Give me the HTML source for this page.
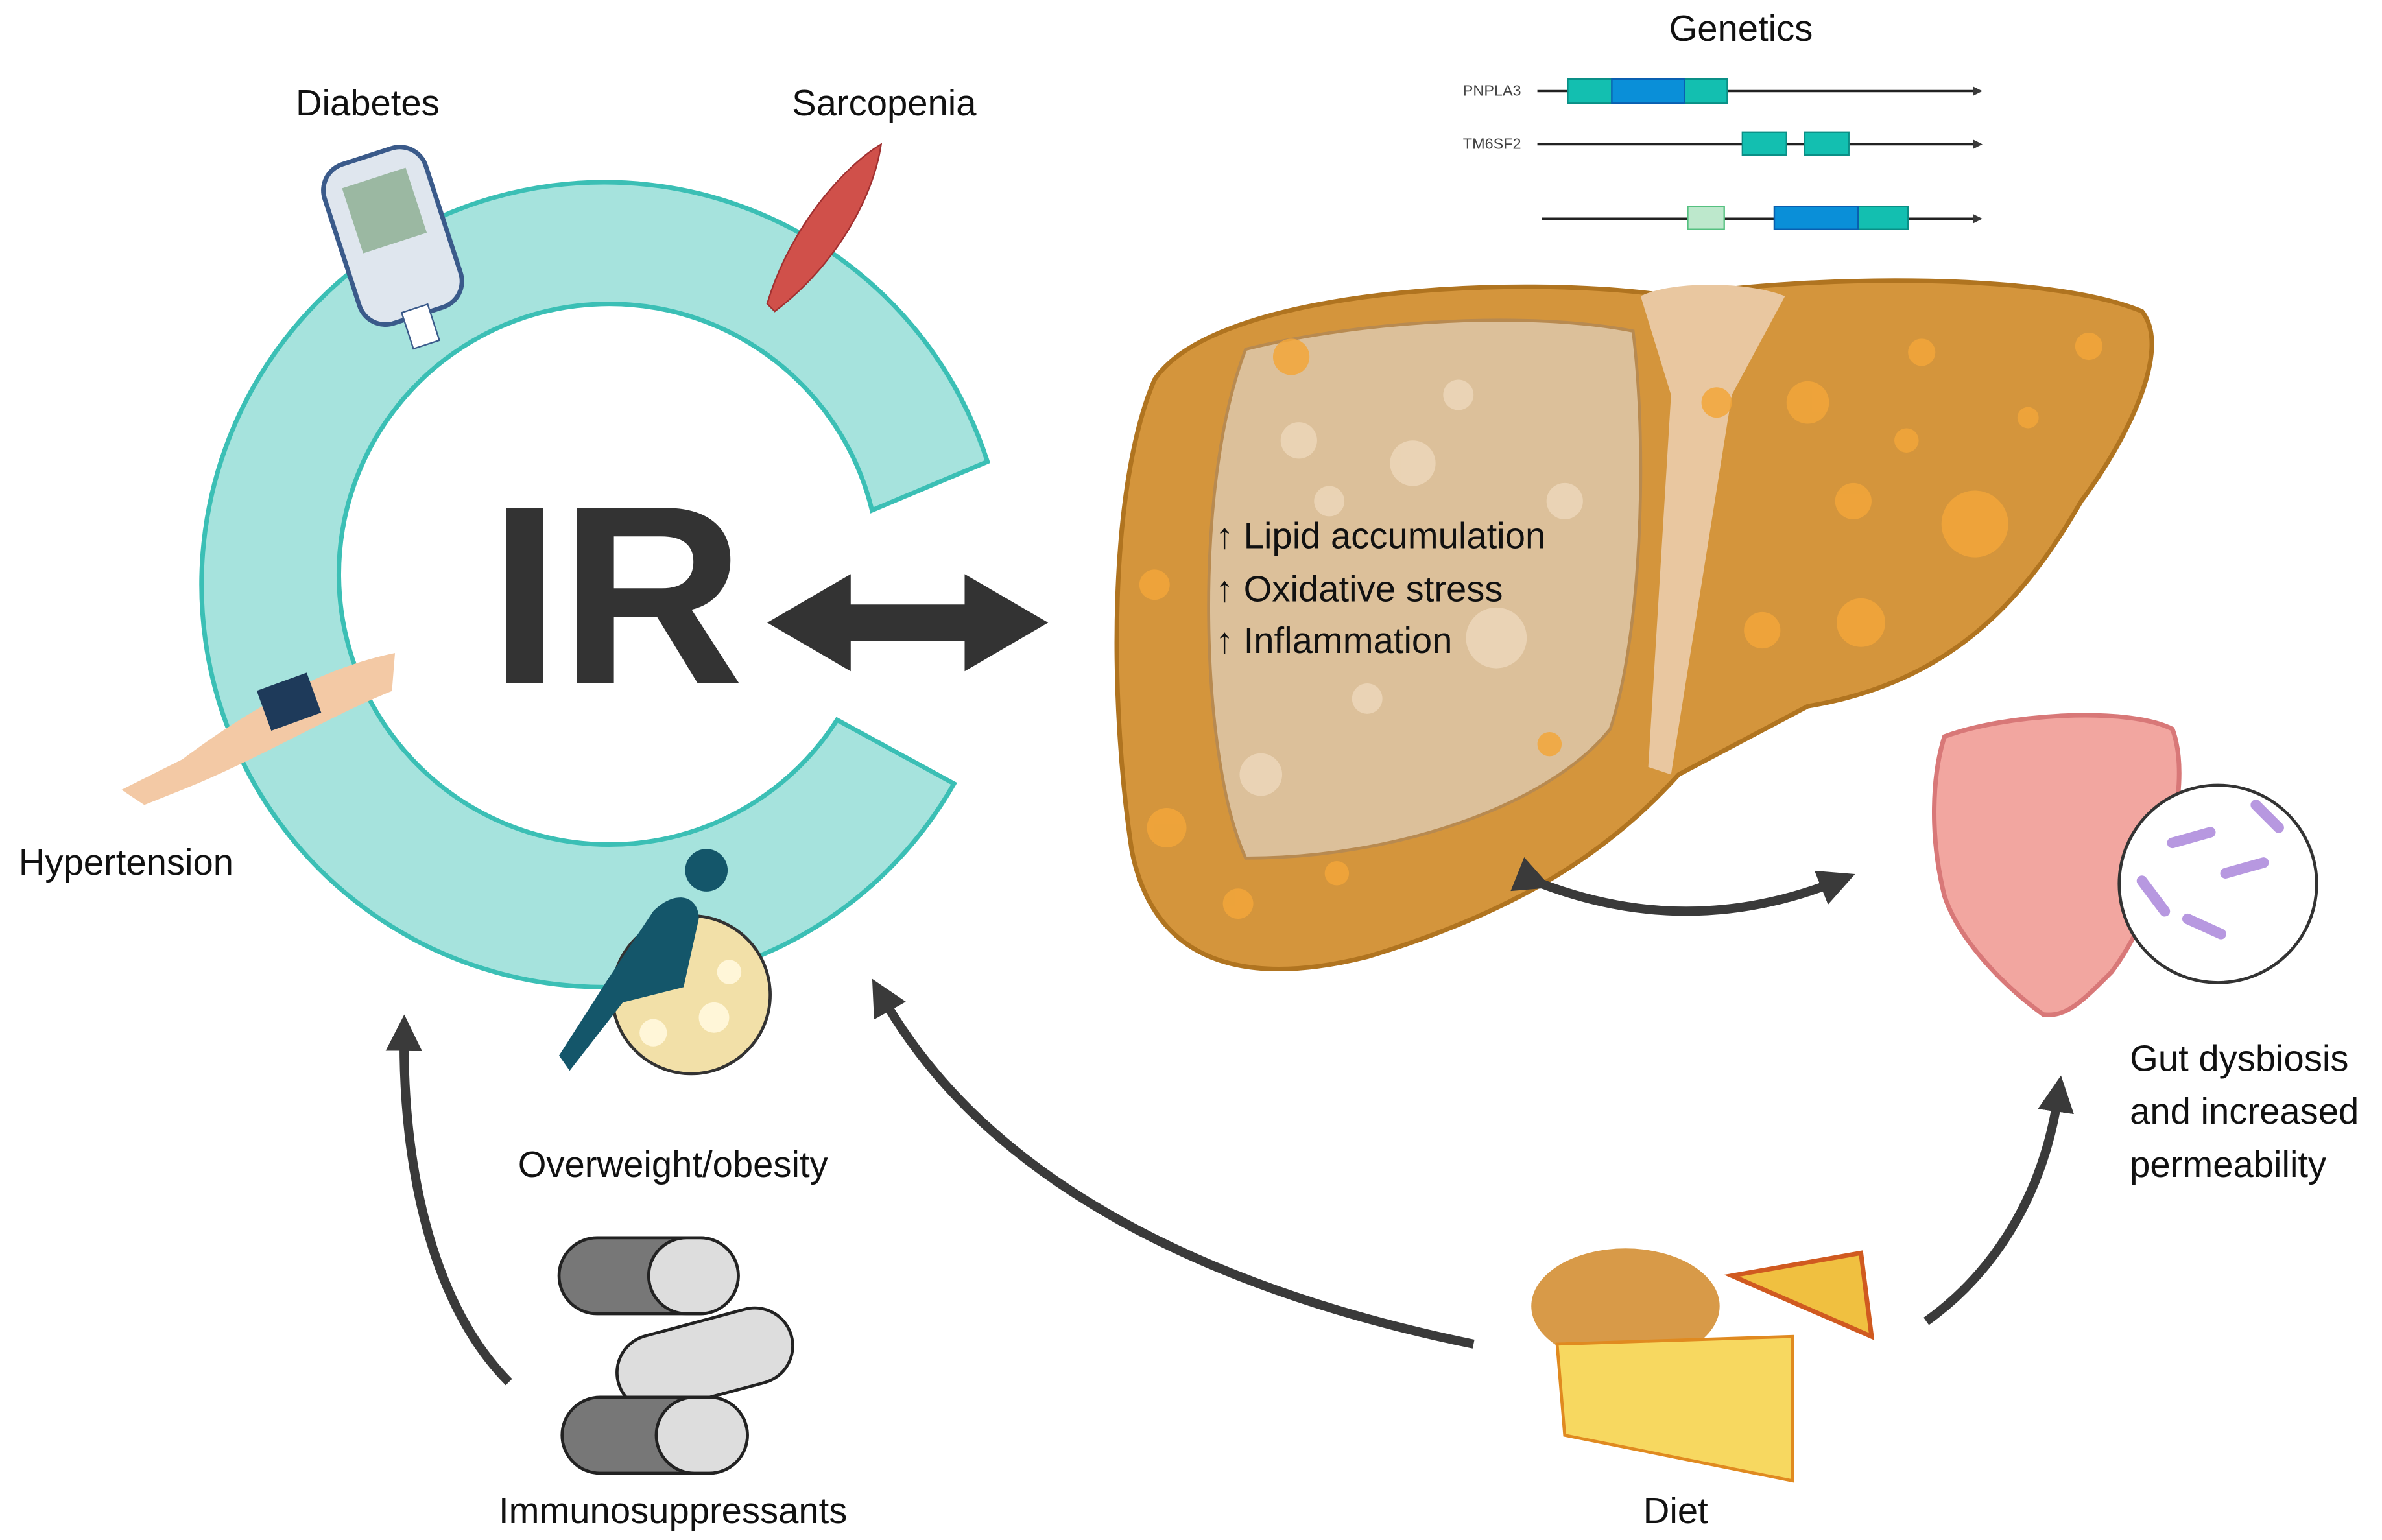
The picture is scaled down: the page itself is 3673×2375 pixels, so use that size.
<!DOCTYPE html>
<html><head><meta charset="utf-8"><style>
html,body{margin:0;padding:0;background:#fff;}
svg{display:block;}
text{font-family:"Liberation Sans",sans-serif;fill:#111;}
</style></head><body>
<svg width="3673" height="2375" viewBox="0 0 1568 1014" preserveAspectRatio="none" xmlns="http://www.w3.org/2000/svg">
<defs>
<marker id="ah" markerWidth="4" markerHeight="4" refX="2" refY="2" orient="auto" markerUnits="strokeWidth"><path d="M0,0 L4,2 L0,4 Z" fill="#3a3a3a"/></marker>
</defs>
<path d="M650,304 A265,265 0 1 0 628,516 L551,474 A178,178 0 1 1 574,336 Z" fill="#a6e3dd" stroke="#3bbfb5" stroke-width="3"/>
<text x="322" y="450" style="font-size:168px;font-weight:bold;fill:#333">IR</text>
<path d="M505,410 L560,378 L560,398 L635,398 L635,378 L690,410 L635,442 L635,422 L560,422 L560,442 Z" fill="#333"/>
<text x="242" y="76" text-anchor="middle" style="font-size:24px">Diabetes</text>
<text x="582" y="76" text-anchor="middle" style="font-size:24px">Sarcopenia</text>
<text x="83" y="576" text-anchor="middle" style="font-size:24px">Hypertension</text>
<text x="443" y="775" text-anchor="middle" style="font-size:24px">Overweight/obesity</text>
<text x="443" y="1003" text-anchor="middle" style="font-size:24px">Immunosuppressants</text>
<text x="1103" y="1003" text-anchor="middle" style="font-size:24px">Diet</text>
<text x="1402" y="705" style="font-size:24px">Gut dysbiosis</text>
<text x="1402" y="740" style="font-size:24px">and increased</text>
<text x="1402" y="775" style="font-size:24px">permeability</text>
<text x="1146" y="27" text-anchor="middle" style="font-size:24px">Genetics</text>
<g stroke="#222" stroke-width="1.5" marker-end="url(#ah)">
<line x1="1012" y1="60" x2="1302" y2="60"/>
<line x1="1012" y1="95" x2="1302" y2="95"/>
<line x1="1015" y1="144" x2="1302" y2="144"/>
</g>
<text x="963" y="63" style="font-size:10px;fill:#444">PNPLA3</text>
<text x="963" y="98" style="font-size:10px;fill:#444">TM6SF2</text>
<rect x="1032" y="52" width="105" height="16" fill="#13bfb0" stroke="#0a8f86"/>
<rect x="1061" y="52" width="48" height="16" fill="#0a8fd8" stroke="#0a5fb0"/>
<rect x="1147" y="87" width="29" height="15" fill="#13bfb0" stroke="#0a8f86"/>
<rect x="1188" y="87" width="29" height="15" fill="#13bfb0" stroke="#0a8f86"/>
<rect x="1111" y="136" width="24" height="15" fill="#bde8cc" stroke="#55c080"/>
<rect x="1168" y="136" width="88" height="15" fill="#13bfb0" stroke="#0a8f86"/>
<rect x="1168" y="136" width="55" height="15" fill="#0a8fd8" stroke="#0a5fb0"/>
<!-- liver -->
<path d="M760,250 C800,190 1000,180 1100,195 C1200,180 1350,180 1410,205 C1430,230 1400,290 1370,330 C1330,400 1280,450 1190,465 L1105,510 C1060,560 1000,600 900,630 C820,650 760,635 745,560 C730,460 730,320 760,250 Z" fill="#d4953c" stroke="#b07420" stroke-width="3"/>
<path d="M1080,195 C1100,185 1150,185 1175,195 L1140,260 L1100,510 L1085,505 L1100,260 Z" fill="#e9c7a0"/>
<path d="M820,230 C900,210 1010,205 1075,218 C1085,300 1080,420 1060,480 C1020,530 920,565 820,565 C790,500 785,320 820,230 Z" fill="#dcc09a" stroke="#b88a50" stroke-width="2"/>
<g fill="#f2a63a" opacity="0.85">
<circle cx="1190" cy="265" r="14"/><circle cx="1265" cy="232" r="9"/><circle cx="1300" cy="345" r="22"/><circle cx="1220" cy="330" r="12"/><circle cx="1160" cy="415" r="12"/><circle cx="1375" cy="228" r="9"/><circle cx="1335" cy="275" r="7"/><circle cx="1255" cy="290" r="8"/><circle cx="1225" cy="410" r="16"/><circle cx="760" cy="385" r="10"/><circle cx="768" cy="545" r="13"/><circle cx="815" cy="595" r="10"/><circle cx="880" cy="575" r="8"/><circle cx="1020" cy="490" r="8"/><circle cx="850" cy="235" r="12"/><circle cx="1130" cy="265" r="10"/>
</g>
<g fill="#f0dcc0" opacity="0.7">
<circle cx="855" cy="290" r="12"/><circle cx="930" cy="305" r="15"/><circle cx="985" cy="420" r="20"/><circle cx="900" cy="460" r="10"/><circle cx="830" cy="510" r="14"/><circle cx="960" cy="260" r="10"/><circle cx="1030" cy="330" r="12"/><circle cx="875" cy="330" r="10"/>
</g>
<text x="800" y="361" style="font-size:24px">↑ Lipid accumulation</text>
<text x="800" y="396" style="font-size:24px">↑ Oxidative stress</text>
<text x="800" y="430" style="font-size:24px">↑ Inflammation</text>
<path d="M1010,580 Q1110,620 1210,580" fill="none" stroke="#3a3a3a" stroke-width="6" marker-start="url(#ah)" marker-end="url(#ah)"/>
<!-- gut -->
<path d="M1280,485 C1320,470 1400,465 1430,480 C1445,520 1420,600 1390,640 C1370,660 1360,670 1345,668 C1320,650 1290,620 1280,590 C1270,550 1272,510 1280,485 Z" fill="#f2a6a0" stroke="#d87878" stroke-width="3"/>
<circle cx="1460" cy="582" r="65" fill="#fff" stroke="#333" stroke-width="2"/>
<g stroke="#b798e0" stroke-width="7" stroke-linecap="round">
<line x1="1430" y1="555" x2="1455" y2="548"/><line x1="1465" y1="575" x2="1490" y2="568"/><line x1="1440" y1="605" x2="1462" y2="615"/><line x1="1485" y1="530" x2="1500" y2="545"/><line x1="1410" y1="580" x2="1425" y2="600"/>
</g>
<g transform="rotate(-18 260 160)"><rect x="225" y="100" width="70" height="110" rx="18" fill="#dfe6ee" stroke="#3a5a8a" stroke-width="3"/><rect x="238" y="115" width="44" height="45" fill="#9bb8a2"/><rect x="250" y="205" width="18" height="25" fill="#fff" stroke="#3a5a8a"/></g>
<path d="M505,200 C520,150 555,110 580,95 C575,130 550,175 510,205 Z" fill="#d0504a" stroke="#a03030"/>
<path d="M80,520 L120,500 C160,470 210,440 260,430 L258,455 C220,470 170,500 120,520 L95,530 Z" fill="#f3c9a5"/>
<rect x="172" y="448" width="35" height="28" fill="#1e3a5a" transform="rotate(-20 190 460)"/>
<circle cx="455" cy="655" r="52" fill="#f2e0a8" stroke="#333" stroke-width="2"/>
<g fill="#fff6d8"><circle cx="440" cy="640" r="12"/><circle cx="470" cy="670" r="10"/><circle cx="430" cy="680" r="9"/><circle cx="480" cy="640" r="8"/></g>
<circle cx="465" cy="573" r="14" fill="#14566a"/>
<path d="M430,600 C445,585 460,590 460,605 L450,650 L410,660 L375,705 L368,695 L400,645 Z" fill="#14566a"/>
<g stroke="#222" stroke-width="2">
<rect x="368" y="815" width="118" height="50" rx="25" fill="#777"/><rect x="427" y="815" width="59" height="50" rx="25" fill="#ddd"/>
<rect x="405" y="870" width="118" height="50" rx="25" fill="#ddd" transform="rotate(-15 464 895)"/>
<rect x="370" y="920" width="122" height="50" rx="25" fill="#777"/><rect x="432" y="920" width="60" height="50" rx="25" fill="#ddd"/>
</g>
<ellipse cx="1070" cy="860" rx="62" ry="38" fill="#d89a48"/>
<path d="M1140,840 L1225,825 L1232,880 Z" fill="#f0c040" stroke="#d05a20" stroke-width="3"/>
<path d="M1025,885 L1180,880 L1180,975 L1030,945 Z" fill="#f7d860" stroke="#e08a20" stroke-width="2"/>
<g fill="none" stroke="#3a3a3a" stroke-width="6">
<path d="M335,910 C285,860 265,770 266,680" marker-end="url(#ah)"/>
<path d="M970,885 C800,850 650,780 580,655" marker-end="url(#ah)"/>
<path d="M1268,870 C1310,840 1345,790 1355,720" marker-end="url(#ah)"/>
</g>
</svg>
</body></html>
